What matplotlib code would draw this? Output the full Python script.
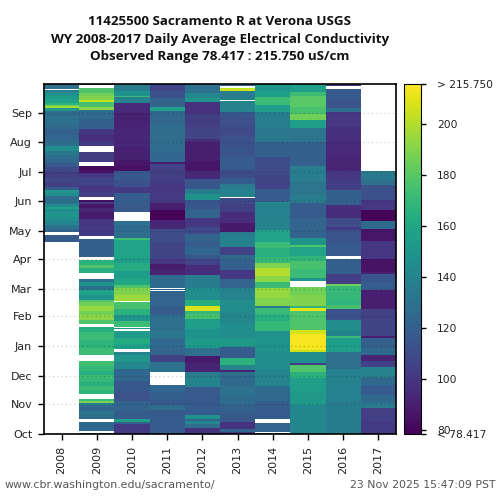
import numpy as np
import matplotlib
matplotlib.use("Agg")
import matplotlib.pyplot as plt

N = float("nan")
years = ["2008", "2009", "2010", "2011", "2012", "2013", "2014", "2015", "2016", "2017"]
months = ["Oct", "Nov", "Dec", "Jan", "Feb", "Mar", "Apr", "May", "Jun", "Jul", "Aug", "Sep"]
month_days = [0, 31, 61, 92, 123, 151, 182, 212, 243, 273, 304, 335]
vmin_obs = 78.417
vmax_obs = 215.750

# Each year: (day after 1 Oct where a run starts, conductivity of the run)
runs_2008 = [(0, N), (200, 116), (208, N), (211, 122), (214, 130), (218, 142), (222, 146), (226, 150), (231, 146), (235, 157),
             (237, 143), (240, 130), (244, 126), (248, 146), (251, 150), (254, 118), (258, 104), (263, 108), (268, 103), (273, 108),
             (278, 116), (283, 124), (287, 128), (291, 134), (295, 146), (300, 128), (306, 124), (312, 120), (318, 125), (322, 128),
             (328, 130), (332, 126), (337, 152), (340, 196), (342, 185), (343, 168), (345, 158), (349, 153), (352, 150), (354, 146),
             (357, 135), (359, N), (360, 128)]
runs_2009 = [(0, 135), (1, N), (3, 125), (13, N), (16, 126), (20, 132), (24, 122), (28, 128), (30, 138), (32, 188), (34, 172),
             (36, N), (42, 168), (46, 172), (50, 165), (54, 170), (58, 172), (62, 164), (66, 170), (71, 174), (76, N),
             (82, 173), (90, 168), (98, 172), (106, 165), (112, N), (115, 178), (119, 192), (124, 186), (128, 194), (134, 186), (138, 178),
             (140, 148), (145, 158), (150, 130), (154, 148), (158, 128), (162, N), (168, 165), (173, 178), (176, 166), (181, N), (185, 120),
             (203, N), (206, 102), (216, 100), (224, 88), (232, 93), (236, 86), (240, 100), (241.6, 84), (244, N), (247, 104), (252, 100),
             (260, 106), (268, 100), (272, 85), (275, 82), (280, N), (284, 103), (289, 104), (294, N), (300, 102), (306, 96), (312, 100),
             (318, 120), (328, 125), (336, 130), (338, 192), (341, 176), (346, 204), (348, 190), (352, 186), (356, 178), (361, N), (364, 125)]
runs_2010 = [(0, 102), (10, 120), (13, 156), (16, 118), (24, 122), (34, 113), (45, 116), (55, 123), (68, 142), (75, 150), (82, 140),
             (86.5, N), (88.6, 156), (94, 162), (100, 152), (106, 158), (107.4, N), (110.2, 150), (111, N), (112, 172), (118, 150), (124, 166),
             (130, 176), (138, N), (139, 195), (145, 190), (152, 178), (155, 160), (162, 155), (170, 163), (178, 155), (182, 158),
             (202, 172), (204, 128), (212, 125), (218, 130), (222, N), (232, 116), (240, 119), (251, 102), (258, 112), (265, 116),
             (273.6, 84), (280, 86), (286, 91), (300, 93), (320, 91), (335, 94), (345, 138), (351, 172), (353.5, 148), (358, 135)]
runs_2011 = [(0, 118), (15, 116), (25, 128), (30, 116), (37, 120), (44, 123), (51, N), (65, 130), (75, 105), (82, 122), (89, 125),
             (100, 132), (108, 128), (124, 118), (134, 122), (149, N), (150, 124), (151, N), (152, 126), (166, 92), (172, 88), (177, 100),
             (182, 106), (200, 110), (214.5, 92), (223, 80), (233.6, 90), (240.6, 102), (250, 100), (262, 104), (273.6, 105), (282, 90), (284, 124),
             (295, 127), (322, 124), (337, 156), (341, 122), (350, 112), (358, 106)]
runs_2012 = [(0, 98), (6, 128), (10, 142), (14, 122), (16, 148), (20, 118), (30, 116), (49, 140), (58, 136), (65, 92), (74, 88), (81, 128),
             (90, 152), (100, 148), (110, 155), (120, 176), (125, 170), (128, 208), (133, 165), (140, 145), (152, 135), (166, 96), (176, 106),
             (182, 115), (187, 124), (195, 118), (200, 122), (209, 108), (216, 100), (225, 122), (235, 115), (244, 148), (250, 135), (256, 115),
             (266, 94), (273.6, 86), (285, 90), (305, 96), (308, 106), (320, 103), (334.4, 98), (346, 150), (350, 142), (356, 130)]
runs_2013 = [(0, 100), (2, 122), (5, 98), (13, 116), (22, 120), (30, 126), (40, 130), (50, 125), (61, 128), (65, 92), (67, 140), (72, 166),
             (79, 118), (91, 152), (100, 146), (115, 142), (128, 146), (140, 140), (152, 122), (162, 100), (171, 120), (181, 125), (187, 105),
             (195, 138), (206, 135), (211, 88), (220, 96), (232, 104), (240, 108), (246.5, N), (247.5, 138), (255, 135), (261, 118), (266.6, 110),
             (275, 118), (289, 114), (300, 112), (312, 108), (320, 112), (331, 115), (336, 140), (347, N), (348, 135), (358.4, 205), (361, N), (363, 125)]
runs_2014 = [(0, 135), (1, N), (2, 122), (11, N), (16, 118), (34, 125), (50, 140), (68, 145), (86, 148), (107, 170), (118, 165), (125, 172),
             (131, 135), (134, 190), (142, 194), (152, 172), (159, 192), (165, 200), (173, 190), (178, 170), (185, 165), (193.6, 172), (200, 158),
             (212.8, 140), (225, 138), (240.6, 150), (242, 118), (256, 106), (270, 110), (289, 120), (305, 133), (320, 136), (336, 155), (343, 172),
             (351, 155), (358, 150)]
runs_2015 = [(0, 142), (30, 152), (45, 155), (58, 166), (65, 178), (72, 102), (74, 145), (86, 206), (88, 214), (104, 207), (108, 178),
             (121, 178), (128, 210), (131, 168), (134, 190), (145, 186), (153, N), (160, 150), (163, 172), (172, 176), (180, 168), (186, 158), (195, 178),
             (197, 150), (204, 122), (225, 118), (240.6, 135), (250, 132), (263, 136), (280, 120), (305, 132), (319, 155), (327.5, 186), (334, 176),
             (341, 180), (352, 172), (357, 155)]
runs_2016 = [(0, 135), (34, 138), (68, 128), (86, 155), (100, 172), (102, 140), (107, 146), (119, 112), (130, 176), (135, 168), (140, 170), (154, 186),
             (156, 104), (167, 120), (182, N), (185.6, 116), (200, 114), (212.8, 102), (216, 110), (225, 96), (239, 120), (254.5, 103), (265, 100),
             (273.6, 92), (290, 94), (305, 97), (320, 100), (336, 128), (339.6, 114), (350, 116), (360, N), (363, 100)]
runs_2017 = [(0, 102), (13, 104), (27, 135), (32, 125), (41, 118), (51, 125), (59, 140), (70, 105), (76, 92), (82, 125), (90, 120), (100, 90),
             (102, 106), (120, 105), (130, 90), (150, 118), (159, 115), (167, 90), (169, 85), (182, 100), (200.6, 86), (214, 126), (222, 80), (233.6, 100),
             (244, 112), (260, 128), (266, 134), (274, N)]

all_runs = [runs_2008, runs_2009, runs_2010, runs_2011, runs_2012,
            runs_2013, runs_2014, runs_2015, runs_2016, runs_2017]

# Expand the runs to one row per day
day_grid = np.arange(365)
data = np.full((365, len(years)), np.nan)
for j, runs in enumerate(all_runs):
    s = np.array([r[0] for r in runs], dtype=float)
    v = np.array([r[1] for r in runs], dtype=float)
    assert np.all(np.diff(s) > 0), years[j]
    data[:, j] = v[np.searchsorted(s, day_grid + 0.5, side="right") - 1]

plt.rcParams["font.family"] = "DejaVu Sans"
fig = plt.figure(figsize=(5, 5), dpi=100)
ax = fig.add_axes([44 / 500, 1 - 434 / 500, 352 / 500, 350 / 500])
cmap = plt.get_cmap("viridis").copy()
cmap.set_bad("white")
im = ax.pcolormesh(np.arange(len(years) + 1) - 0.5, np.arange(366), np.ma.masked_invalid(data),
                   cmap=cmap, vmin=vmin_obs, vmax=vmax_obs, shading="flat")
ax.set_xlim(-0.5, len(years) - 0.5)
ax.set_ylim(0, 365)
ax.set_xticks(range(len(years)))
ax.set_xticklabels(years, rotation=90, fontsize=8, color="#222222")
ax.set_yticks(month_days)
ax.set_yticklabels(months, fontsize=8, color="#222222")
ax.tick_params(axis="both", length=4, width=1, pad=4.5)
ax.yaxis.grid(True, linestyle=(0, (1, 2.4)), color="black", alpha=0.2, linewidth=0.9)
ax.set_axisbelow(False)
for sp in ax.spines.values():
    sp.set_linewidth(1.2)

cax = fig.add_axes([403.5 / 500, 1 - 434 / 500, 17.5 / 500, 350 / 500])
cb = fig.colorbar(im, cax=cax)
cb_ticks = [vmin_obs, 80, 100, 120, 140, 160, 180, 200, vmax_obs]
cb_labels = ["< 78.417", "80", "100", "120", "140", "160", "180", "200", "> 215.750"]
cb.set_ticks(cb_ticks)
cb.set_ticklabels(cb_labels, fontsize=7.7, color="#222222")
cb.ax.tick_params(length=3.6, width=1, pad=8)
cb.outline.set_linewidth(0.8)
cb.minorticks_off()

fig.text(220 / 500, 1 - 39 / 500,
         "11425500 Sacramento R at Verona USGS\n"
         "WY 2008-2017 Daily Average Electrical Conductivity\n"
         "Observed Range 78.417 : 215.750 uS/cm",
         ha="center", va="center", fontsize=9.65, fontweight="bold", family="Open Sans",
         linespacing=1.43, color="#111111")
fig.text(5 / 500, 1 - 485 / 500, "www.cbr.washington.edu/sacramento/", fontsize=7.9, color="#555555", va="center")
fig.text(495 / 500, 1 - 485 / 500, "23 Nov 2025 15:47:09 PST", fontsize=7.85, color="#555555", va="center", ha="right")
fig.savefig("out.png", dpi=100)
